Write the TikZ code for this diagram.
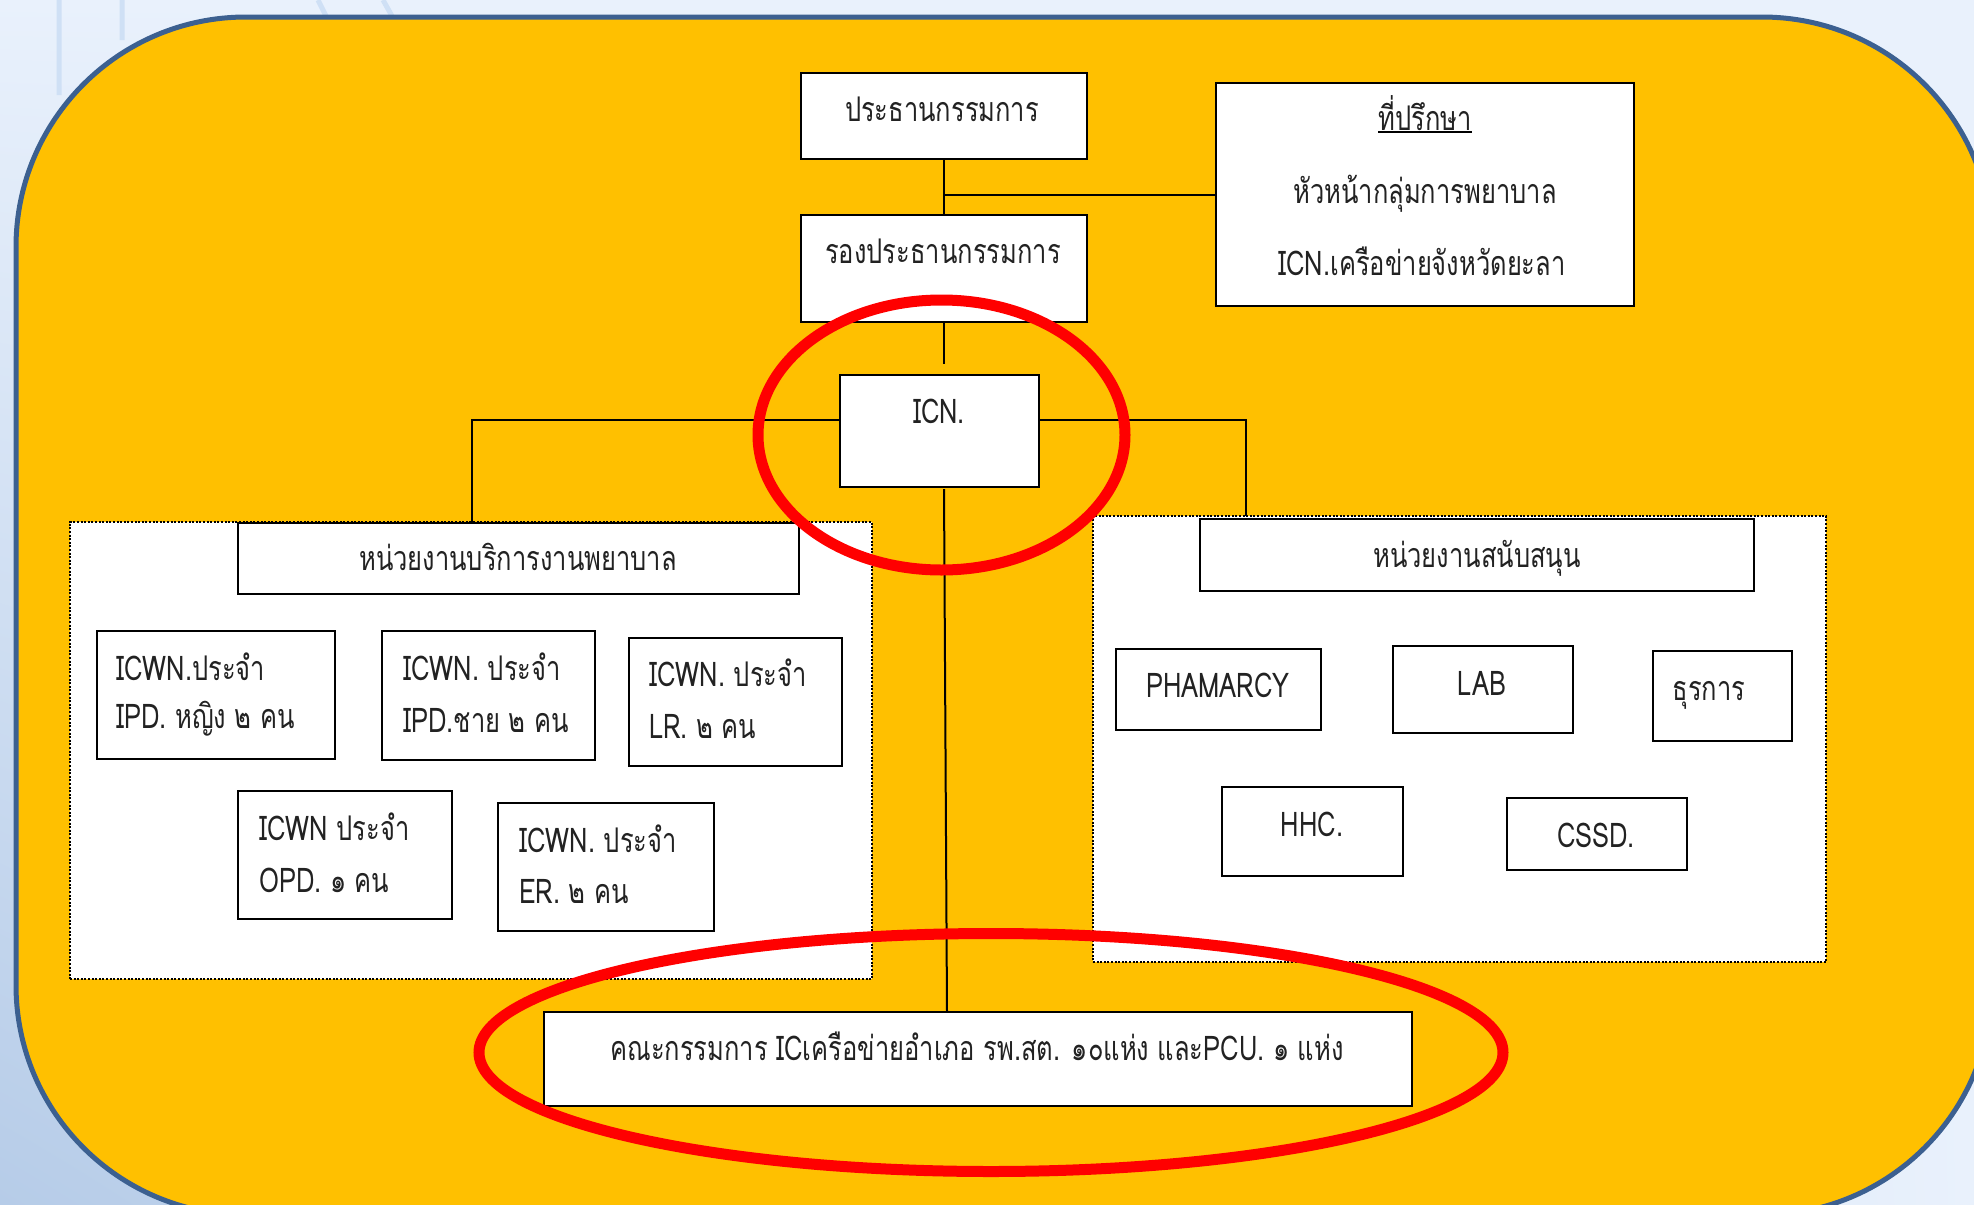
\documentclass[tikz,border=0pt]{standalone}
\usepackage{fontspec}
\usetikzlibrary{shadings}
\newfontfamily\thai[Script=Thai,FakeStretch=0.75]{Loma}
\definecolor{bgblue}{HTML}{E9F1FC}
\definecolor{bgdeep}{HTML}{B6CCE8}
\definecolor{bgline}{HTML}{CFE0F5}
\definecolor{gold}{HTML}{FFC000}
\definecolor{frame}{HTML}{3C6090}
\definecolor{ink}{HTML}{222222}
\begin{document}
\begin{tikzpicture}[x=1pt,y=-1pt,
  bx/.style={draw=black, fill=white, line width=2.2pt, inner sep=0pt, outer sep=0pt},
  pnl/.style={draw=black, fill=white, line width=2pt, dash pattern=on 2pt off 1.6pt, inner sep=0pt, outer sep=0pt},
  tx/.style={font=\thai\fontsize{34}{40}\selectfont, inner sep=0pt, anchor=base, text=ink},
  txl/.style={tx, anchor=base west},
  conn/.style={draw=black, line width=2pt},
  ring/.style={draw=red, line width=11pt}]
\useasboundingbox (0,0) rectangle (1974,1205);
% background
\shade[upper left=bgblue, upper right=bgblue, lower right=bgblue, lower left=bgdeep] (0,0) rectangle (1974,1205);
\draw[bgline, line width=5pt] (59,0) -- (59,95) (122,0) -- (122,40) (318,0) -- (326,16) (383,0) -- (392,16);
% main rounded panel
\draw[fill=gold, draw=frame, line width=5pt, rounded corners=230pt] (16,17) rectangle (1992,1215);

% dotted panels
\node[pnl, minimum width=802pt, minimum height=457pt] (lpanel) at (471,750.5) {};
\node[pnl, minimum width=733pt, minimum height=446pt] (rpanel) at (1459.5,739) {};

% top boxes
\node[bx, minimum width=286pt, minimum height=86pt] (p1) at (944,116) {};
\node[bx, minimum width=286pt, minimum height=107pt] (p2) at (944,268.5) {};
\node[bx, minimum width=418pt, minimum height=223pt] (adv) at (1425,194.5) {};
\node[bx, minimum width=199pt, minimum height=112pt] (icn) at (939.5,431) {};

% left panel boxes
\node[bx, minimum width=561pt, minimum height=71pt] (lhead) at (518.5,558.5) {};
\node[bx, minimum width=238pt, minimum height=128pt] (bA) at (216,695) {};
\node[bx, minimum width=213pt, minimum height=129pt] (bB) at (488.5,695.5) {};
\node[bx, minimum width=213pt, minimum height=128pt] (bC) at (735.5,702) {};
\node[bx, minimum width=214pt, minimum height=128pt] (bD) at (345,855) {};
\node[bx, minimum width=216pt, minimum height=128pt] (bE) at (606,867) {};

% right panel boxes
\node[bx, minimum width=554pt, minimum height=72pt] (rhead) at (1477,555) {};
\node[bx, minimum width=205pt, minimum height=81pt] (bPH) at (1218.5,689.5) {};
\node[bx, minimum width=180pt, minimum height=87pt] (bLAB) at (1483,689.5) {};
\node[bx, minimum width=139pt, minimum height=90pt] (bTH) at (1722.5,696) {};
\node[bx, minimum width=181pt, minimum height=89pt] (bHHC) at (1312.5,831.5) {};
\node[bx, minimum width=180pt, minimum height=72pt] (bCSSD) at (1597,834) {};

% bottom box
\node[bx, minimum width=868pt, minimum height=94pt] (bot) at (978,1059) {};

% connectors
\coordinate (icntop) at (944,364);
\coordinate (hl) at (472,420);
\coordinate (hr) at (1246,420);
\coordinate (vtop) at (944,489);
\coordinate (vbot) at (947,0);
\draw[conn] (p1.south) -- (p2.north);
\draw[conn] (adv.west) -- (adv.west -| p1.south);
\draw[conn] (p2.south) -- (icntop);
\draw[conn] (icn.west |- hl) -- (hl) -- (hl |- lpanel.north);
\draw[conn] (icn.east |- hr) -- (hr) -- (hr |- rpanel.north);
\draw[conn] (vtop) -- (bot.north -| vbot);

% texts
\node[tx] (t1) at (942,121) {ประธานกรรมการ};
\node[tx] (t2) at (943,263) {รองประธานกรรมการ};
\node[tx] (ta1) at (1425,130) {ที่ปรึกษา};
\draw[black, line width=1.8pt] ([yshift=-2pt]ta1.base west) -- ([yshift=-2pt]ta1.base east);
\node[tx] (ta2) at (1425,203) {หัวหน้ากลุ่มการพยาบาล};
\node[tx] (ta3) at (1422,275) {ICN.เครือข่ายจังหวัดยะลา};
\node[tx] (ticn) at (939,423) {ICN.};

\node[tx] (tlh) at (518,570) {หน่วยงานบริการงานพยาบาล};
\node[txl] (tA1) at (116,680) {ICWN.ประจำ};
\node[txl] (tA2) at (116,728) {IPD. หญิง ๒ คน};
\node[txl] (tB1) at (403,680) {ICWN. ประจำ};
\node[txl] (tB2) at (403,732) {IPD.ชาย ๒ คน};
\node[txl] (tC1) at (649,686) {ICWN. ประจำ};
\node[txl] (tC2) at (649,738) {LR. ๒ คน};
\node[txl] (tD1) at (259,840) {ICWN ประจำ};
\node[txl] (tD2) at (259,892) {OPD. ๑ คน};
\node[txl] (tE1) at (519,852) {ICWN. ประจำ};
\node[txl] (tE2) at (519,903) {ER. ๒ คน};

\node[tx] (trh) at (1477,567) {หน่วยงานสนับสนุน};
\node[tx] (tPH) at (1218,697) {PHAMARCY};
\node[tx] (tLAB) at (1482,695) {LAB};
\node[tx] (tTH) at (1709,700) {ธุรการ};
\node[tx] (tHHC) at (1312,836) {HHC.};
\node[tx] (tCSSD) at (1596,847) {CSSD.};

\node[tx] (tbot) at (977,1060) {คณะกรรมการ ICเครือข่ายอำเภอ รพ.สต. ๑๐แห่ง และPCU. ๑ แห่ง};

% red highlight ellipses
\draw[ring] (941.5,435) ellipse [x radius=183.5, y radius=135];
\draw[ring] (991,1052.5) ellipse [x radius=512, y radius=119];
\end{tikzpicture}
\end{document}
